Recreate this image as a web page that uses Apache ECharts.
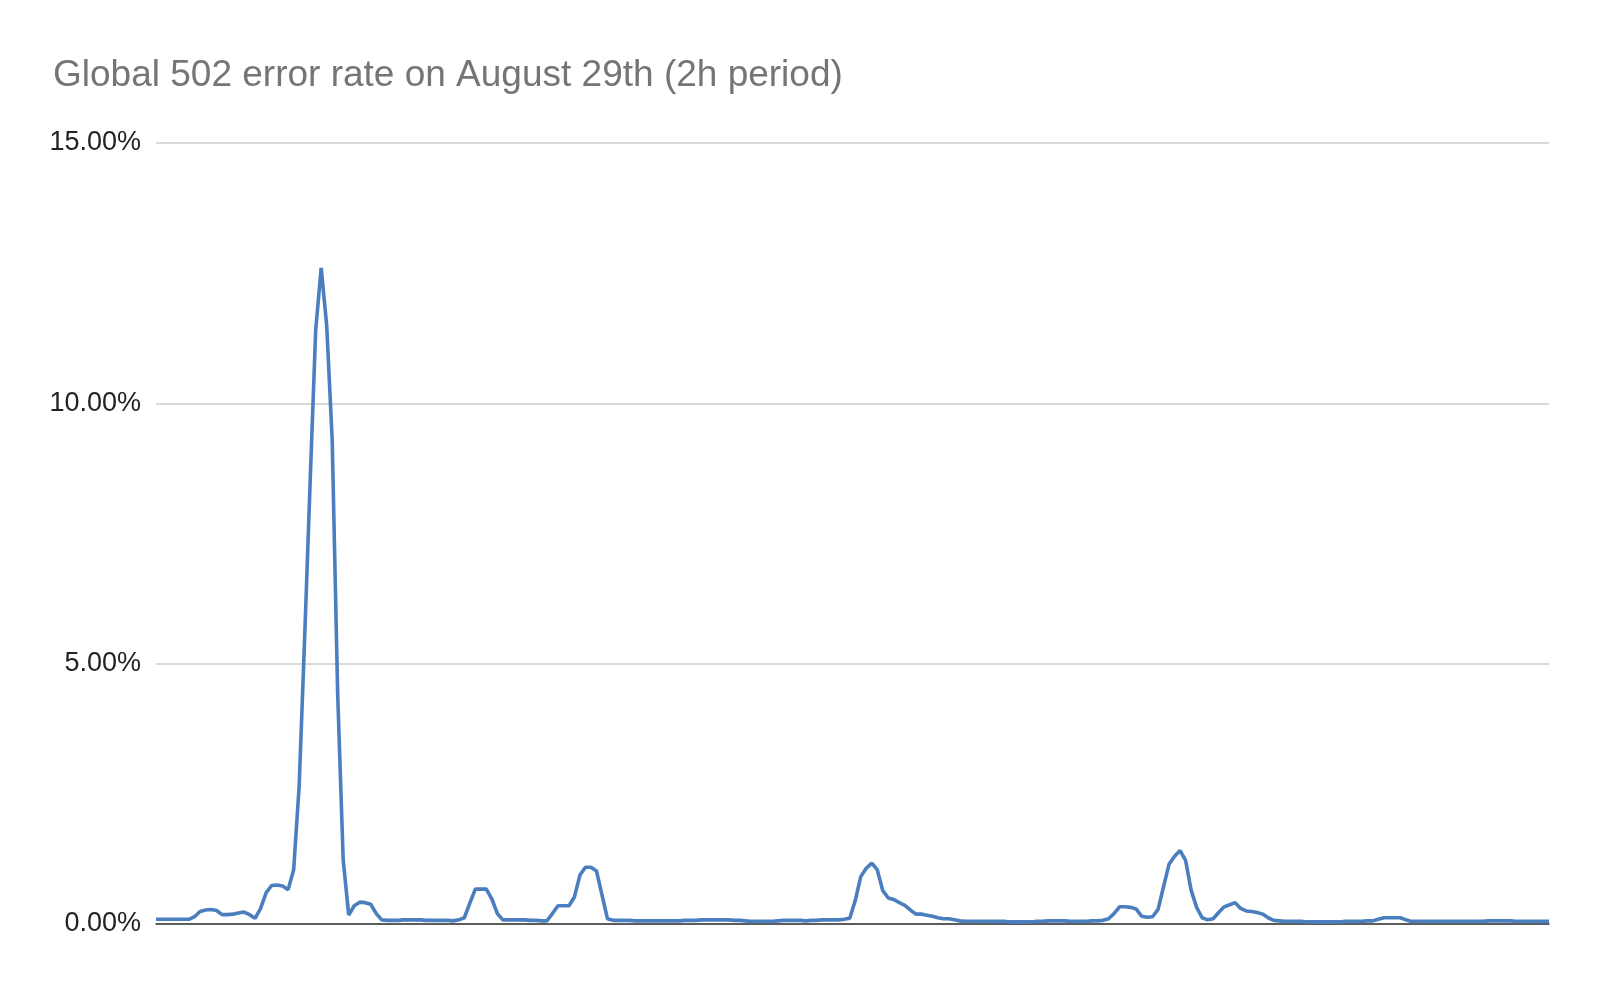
<!DOCTYPE html>
<html>
<head>
<meta charset="utf-8">
<title>Global 502 error rate</title>
<script src="https://cdn.jsdelivr.net/npm/echarts/dist/echarts.min.js"></script>
<style>
html,body{margin:0;padding:0;background:#fff;}
#error_rate_chart{width:1600px;height:990px;}
</style>
</head>
<body>
<div id="error_rate_chart"></div>
<script>
// 2h period, one sample per step, values in percent
var chartTitle = 'Global 502 error rate on August 29th (2h period)';
var yTicks = [0, 5, 10, 15];
var errorRate = [
	0.09,0.09,0.09,0.09,0.09,0.09,0.09,0.14,0.24,0.27,
	0.28,0.26,0.18,0.18,0.19,0.21,0.23,0.18,0.11,0.30,
	0.60,0.74,0.75,0.73,0.66,1.04,2.65,5.50,8.50,11.40,
	12.60,11.50,9.30,4.40,1.23,0.17,0.35,0.42,0.41,0.38,
	0.20,0.08,0.07,0.07,0.07,0.08,0.08,0.08,0.08,0.07,
	0.07,0.07,0.07,0.07,0.06,0.08,0.12,0.40,0.67,0.67,
	0.67,0.48,0.20,0.08,0.08,0.08,0.08,0.08,0.07,0.07,
	0.06,0.06,0.20,0.35,0.35,0.35,0.52,0.94,1.09,1.09,
	1.02,0.56,0.10,0.07,0.07,0.07,0.07,0.06,0.06,0.06,
	0.06,0.06,0.06,0.06,0.06,0.06,0.07,0.07,0.07,0.08,
	0.08,0.08,0.08,0.08,0.08,0.07,0.07,0.06,0.05,0.05,
	0.05,0.05,0.05,0.06,0.07,0.07,0.07,0.07,0.06,0.07,
	0.07,0.08,0.08,0.08,0.08,0.09,0.11,0.45,0.91,1.07,
	1.17,1.04,0.64,0.50,0.47,0.41,0.36,0.27,0.19,0.19,
	0.17,0.15,0.12,0.10,0.10,0.08,0.06,0.05,0.05,0.05,
	0.05,0.05,0.05,0.05,0.05,0.04,0.04,0.04,0.04,0.04,
	0.05,0.05,0.06,0.06,0.06,0.06,0.05,0.05,0.05,0.05,
	0.06,0.06,0.07,0.10,0.20,0.33,0.33,0.32,0.29,0.15,
	0.13,0.14,0.28,0.72,1.15,1.30,1.41,1.22,0.65,0.32,
	0.12,0.08,0.10,0.22,0.33,0.37,0.41,0.30,0.25,0.24,
	0.22,0.19,0.12,0.07,0.06,0.05,0.05,0.05,0.05,0.04,
	0.04,0.04,0.04,0.04,0.04,0.04,0.05,0.05,0.05,0.05,
	0.06,0.06,0.09,0.12,0.12,0.12,0.12,0.08,0.05,0.05,
	0.05,0.05,0.05,0.05,0.05,0.05,0.05,0.05,0.05,0.05,
	0.05,0.05,0.06,0.06,0.06,0.06,0.06,0.05,0.05,0.05,
	0.05,0.05,0.05,0.05
];
// sample numbers only, the x axis shows no labels
var samples = errorRate.map(function(v, i){ return i; });

var errorChart = {
	init : function(){
		var myChart = echarts.init(document.getElementById('error_rate_chart'));
		myChart.setOption(errorChart.options());
	},

	options : function(){
		var option = {
			backgroundColor : '#ffffff',
			animation : false,
			title : {
				text : chartTitle,
				left : 48,
				top : 52,
				textStyle : {
					color : '#757575',
					fontSize : 37,
					fontWeight : 'normal',
					fontFamily : 'Liberation Sans, Arial, sans-serif'
				}
			},
			grid : {
				left : 156,
				right : 51,
				top : 143,
				bottom : 66
			},
			xAxis : {
				type : 'category',
				data : samples,
				boundaryGap : false,
				axisLine : { show : true, lineStyle : { color : '#333333', width : 1.5 } },
				axisTick : { show : false },
				axisLabel : { show : false },
				splitLine : { show : false }
			},
			yAxis : {
				type : 'value',
				min : yTicks[0],
				max : yTicks[yTicks.length - 1],
				interval : yTicks[1] - yTicks[0],
				axisLine : { show : false },
				axisTick : { show : false },
				axisLabel : {
					margin : 15,
					color : '#222222',
					fontSize : 27,
					padding : [8, 0, 0, 0],
					fontFamily : 'Liberation Sans, Arial, sans-serif',
					formatter : function(v){ return v.toFixed(2) + '%'; }
				},
				splitLine : { lineStyle : { color : '#cccccc', width : 1.5 } }
			},
			series : [
				{
					name : '502 error rate',
					type : 'line',
					data : errorRate,
					symbol : 'none',
					smooth : false,
					z : 3,
					lineStyle : { color : '#4a7ebf', width : 3.6 }
				}
			]
		};
		return option;
	}
};

errorChart.init();
</script>
</body>
</html>
